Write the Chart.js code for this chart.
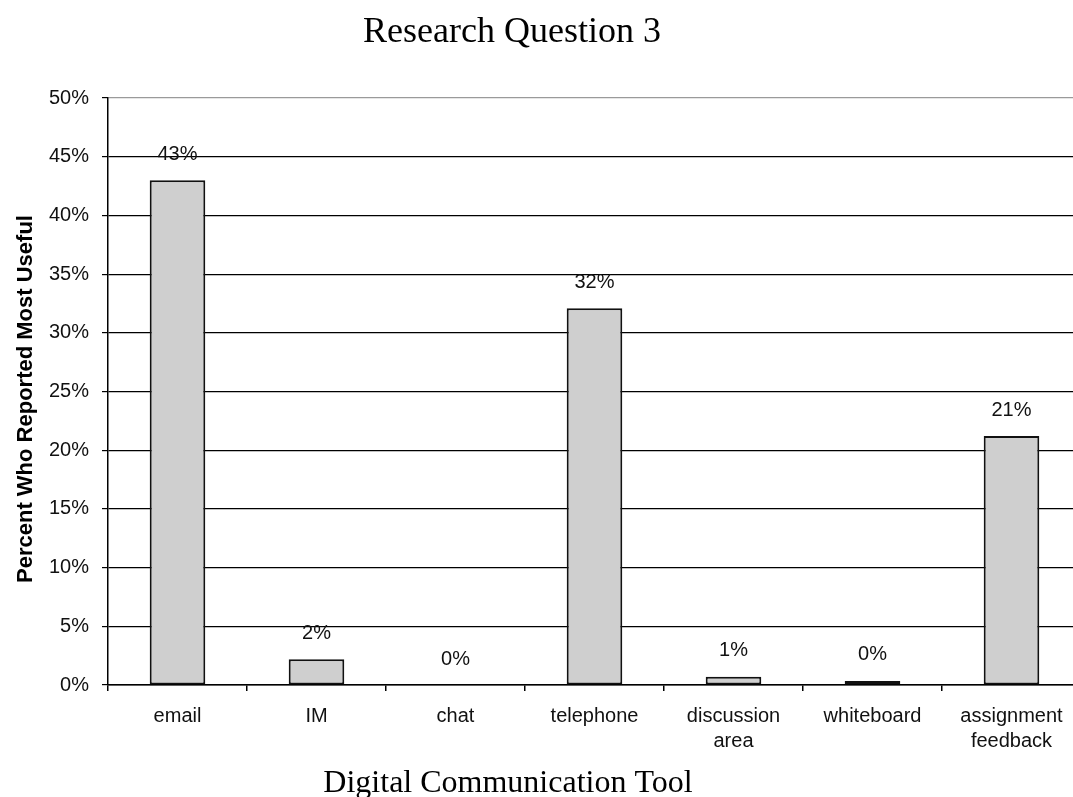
<!DOCTYPE html>
<html>
<head>
<meta charset="utf-8">
<title>Research Question 3</title>
<script src="https://cdn.jsdelivr.net/npm/chart.js@4.4.1/dist/chart.umd.min.js"></script>
<style>
  html, body { margin: 0; padding: 0; background: #ffffff; overflow: hidden; }
  #wrap { width: 1073px; height: 797px; overflow: hidden; position: relative; }
  canvas { display: block; }
</style>
</head>
<body>
<div id="wrap"><canvas id="chart" width="1081" height="797"></canvas></div>
<script>
// Share of respondents naming each tool as most useful (percent)
const categories = ['email', 'IM', 'chat', 'telephone', ['discussion', 'area'], 'whiteboard', ['assignment', 'feedback']];
const percentMostUseful = [43.0, 2.2, 0, 32.1, 0.7, 0.35, 21.2];
const yTicks = [0, 5, 10, 15, 20, 25, 30, 35, 40, 45, 50];

const chartTitle = 'Research Question 3';
const xTitle = 'Digital Communication Tool';
const yTitle = 'Percent Who Reported Most Useful';

const sansFont = '"Liberation Sans", Arial, sans-serif';
const serifFont = '"Liberation Serif", "Times New Roman", serif';

// Percent labels above each bar, plus the chart and axis captions
const captionsPlugin = {
  id: 'captions',
  afterDatasetsDraw(chart) {
    const ctx = chart.ctx;
    const meta = chart.getDatasetMeta(0);
    ctx.save();
    ctx.fillStyle = '#111';
    ctx.font = '20px ' + sansFont;
    ctx.textAlign = 'center';
    ctx.textBaseline = 'middle';
    meta.data.forEach((bar, i) => {
      const v = chart.data.datasets[0].data[i];
      ctx.fillText(Math.round(v) + '%', bar.x, bar.y - 26);
    });
    ctx.restore();
  },
  afterDraw(chart) {
    const ctx = chart.ctx;
    ctx.save();
    ctx.fillStyle = '#000';
    ctx.textAlign = 'center';
    ctx.textBaseline = 'alphabetic';
    ctx.font = '36px ' + serifFont;
    ctx.fillText(chartTitle, 512, 42);
    ctx.font = '32px ' + serifFont;
    ctx.fillText(xTitle, 508, 792);
    ctx.translate(32, 399);
    ctx.rotate(-Math.PI / 2);
    ctx.font = 'bold 22px ' + sansFont;
    ctx.fillText(yTitle, 0, 0);
    ctx.restore();
  }
};

new Chart(document.getElementById('chart'), {
  type: 'bar',
  data: {
    labels: categories,
    datasets: [{
      data: percentMostUseful,
      backgroundColor: '#cfcfcf',
      borderColor: '#111',
      borderWidth: 2,
      borderSkipped: false,
      categoryPercentage: 1.0,
      barPercentage: 0.4
    }]
  },
  options: {
    responsive: false,
    devicePixelRatio: 1,
    animation: false,
    layout: { padding: { top: 98, left: 0, right: 0, bottom: 0 } },
    plugins: {
      legend: { display: false },
      title: { display: false },
      tooltip: { enabled: false }
    },
    scales: {
      x: {
        offset: true,
        grid: {
          offset: true,
          drawOnChartArea: false,
          drawTicks: true,
          tickLength: 6,
          color: '#000',
          tickColor: '#000',
          lineWidth: 1.5
        },
        border: { display: true, color: '#000', width: 1.5 },
        ticks: {
          color: '#111',
          font: { family: sansFont, size: 20, lineHeight: 1.25 },
          padding: 13,
          maxRotation: 0,
          autoSkip: false
        },
        afterFit(scale) { scale.height = 112; }
      },
      y: {
        min: 0,
        max: 50,
        afterBuildTicks(scale) { scale.ticks = yTicks.map(v => ({ value: v })); },
        grid: {
          drawTicks: true,
          tickLength: 6,
          color: (c) => (c.tick && c.tick.value === 50 ? '#9a9a9a' : '#000'),
          tickColor: '#000',
          lineWidth: 1.2
        },
        border: { display: true, color: '#000', width: 1.5 },
        ticks: {
          color: '#111',
          font: { family: sansFont, size: 20 },
          padding: 13,
          callback: (v) => v + '%'
        },
        afterFit(scale) { scale.width = 108; }
      }
    }
  },
  plugins: [captionsPlugin]
});
</script>
</body>
</html>
